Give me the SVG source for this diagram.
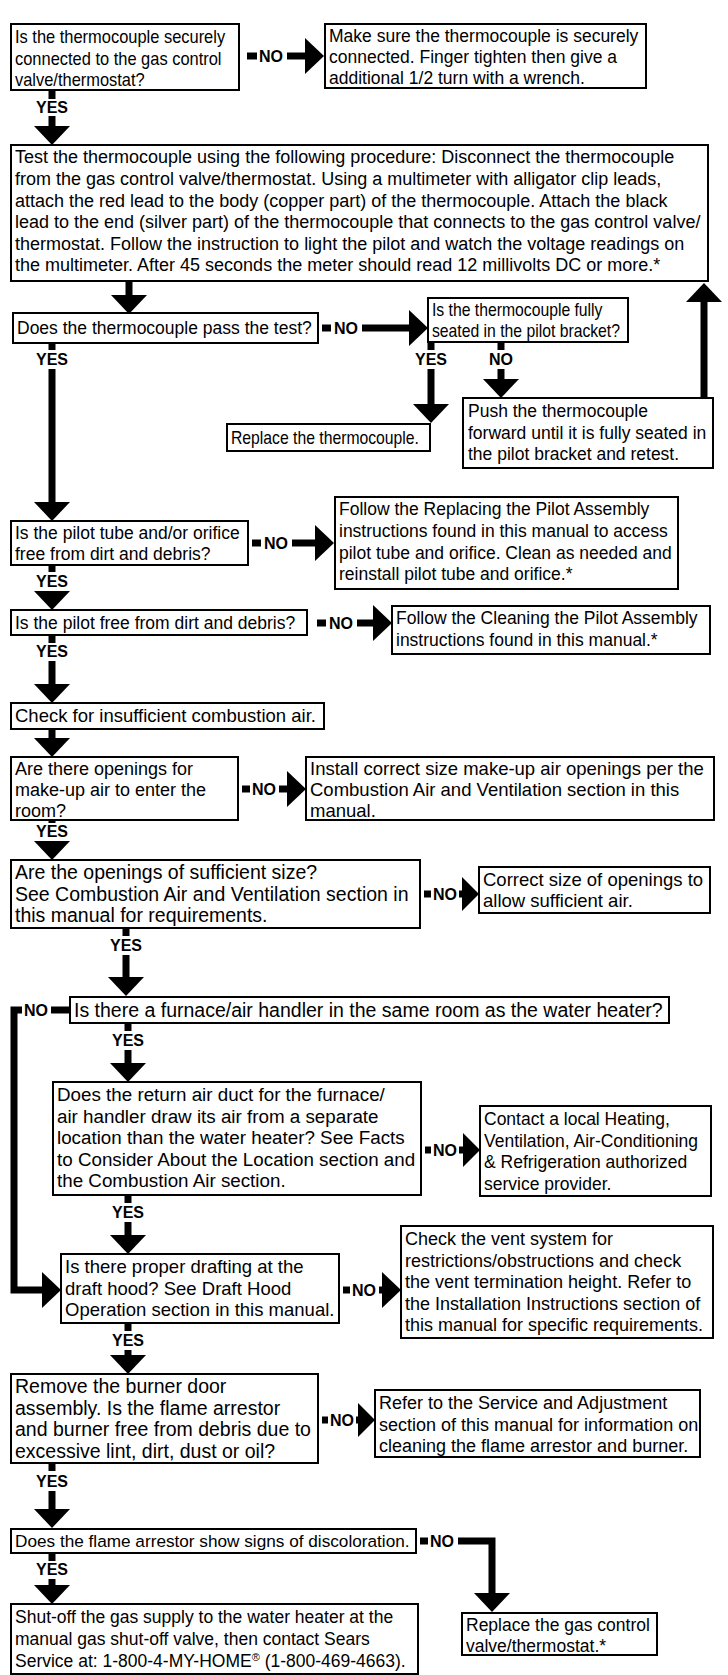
<svg xmlns="http://www.w3.org/2000/svg" xmlns:xlink="http://www.w3.org/1999/xlink" width="728" height="1675" viewBox="0 0 728 1675">
<style>
.box{fill:#fff;stroke:#000;stroke-width:2}
.t{font-family:"Liberation Sans",Arial,sans-serif;font-size:17.5px;fill:#000}
.lb{font-family:"Liberation Sans",Arial,sans-serif;font-size:16px;font-weight:bold;fill:#000}
.m{text-anchor:middle}
.sh{stroke:#000;stroke-width:7;fill:none}
.hd{fill:#000}
</style>
<defs>
<polygon id="ad" class="hd" points="-18,0 18,0 0,19"/>
<polygon id="ar" class="hd" points="0,-18 0,18 19,0"/>
<polygon id="ars" class="hd" points="0,-17 0,17 17,0"/>
<polygon id="au" class="hd" points="-18,0 18,0 0,-19"/>
</defs>
<rect width="728" height="1675" fill="#fff"/>

<g id="connectors">
<!-- A -> B NO -->
<line class="sh" x1="247" y1="56" x2="257" y2="56"/>
<text class="lb" x="259" y="62">NO</text>
<line class="sh" x1="287" y1="56" x2="306" y2="56"/>
<use xlink:href="#ar" x="305" y="56"/>
<!-- A -> C YES -->
<line class="sh" x1="52" y1="90" x2="52" y2="99"/>
<text class="lb m" x="52" y="113">YES</text>
<line class="sh" x1="52" y1="116" x2="52" y2="127"/>
<use xlink:href="#ad" x="52" y="126"/>
<!-- C -> D -->
<line class="sh" x1="129" y1="281" x2="129" y2="296"/>
<use xlink:href="#ad" x="129" y="295"/>
<!-- D -> E NO -->
<line class="sh" x1="322" y1="328" x2="331" y2="328"/>
<text class="lb" x="334" y="334">NO</text>
<line class="sh" x1="362" y1="328" x2="410" y2="328"/>
<use xlink:href="#ar" x="409" y="328"/>
<!-- E -> F YES -->
<line class="sh" x1="431" y1="342" x2="431" y2="350"/>
<text class="lb m" x="431" y="365">YES</text>
<line class="sh" x1="431" y1="369" x2="431" y2="405"/>
<use xlink:href="#ad" x="431" y="404"/>
<!-- E -> G NO -->
<line class="sh" x1="501" y1="342" x2="501" y2="350"/>
<text class="lb m" x="501" y="365">NO</text>
<line class="sh" x1="501" y1="369" x2="501" y2="380"/>
<use xlink:href="#ad" x="501" y="379"/>
<!-- G -> C retest -->
<line class="sh" x1="704" y1="398" x2="704" y2="301"/>
<use xlink:href="#au" x="704" y="302"/>
<!-- D -> H YES -->
<line class="sh" x1="52" y1="343" x2="52" y2="350"/>
<text class="lb m" x="52" y="365">YES</text>
<line class="sh" x1="52" y1="369" x2="52" y2="503"/>
<use xlink:href="#ad" x="52" y="502"/>
<!-- H -> I NO -->
<line class="sh" x1="252" y1="543" x2="261" y2="543"/>
<text class="lb" x="264" y="549">NO</text>
<line class="sh" x1="292" y1="543" x2="316" y2="543"/>
<use xlink:href="#ar" x="315" y="543"/>
<!-- H -> J YES -->
<line class="sh" x1="52" y1="565" x2="52" y2="572"/>
<text class="lb m" x="52" y="587">YES</text>
<use xlink:href="#ad" x="52" y="591"/>
<!-- J -> K NO -->
<line class="sh" x1="317" y1="623" x2="326" y2="623"/>
<text class="lb" x="329" y="629">NO</text>
<line class="sh" x1="357" y1="623" x2="374" y2="623"/>
<use xlink:href="#ar" x="373" y="623"/>
<!-- J -> L YES -->
<line class="sh" x1="52" y1="635" x2="52" y2="643"/>
<text class="lb m" x="52" y="657">YES</text>
<line class="sh" x1="52" y1="661" x2="52" y2="685"/>
<use xlink:href="#ad" x="52" y="684"/>
<!-- L -> M -->
<line class="sh" x1="52" y1="729" x2="52" y2="739"/>
<use xlink:href="#ad" x="52" y="738"/>
<!-- M -> N NO -->
<line class="sh" x1="242" y1="789" x2="250" y2="789"/>
<text class="lb" x="252" y="795">NO</text>
<line class="sh" x1="279" y1="789" x2="288" y2="789"/>
<use xlink:href="#ar" x="287" y="789"/>
<!-- M -> O YES -->
<line class="sh" x1="52" y1="820" x2="52" y2="823"/>
<text class="lb m" x="52" y="837">YES</text>
<use xlink:href="#ad" x="52" y="841"/>
<!-- O -> P NO -->
<line class="sh" x1="424" y1="894" x2="431" y2="894"/>
<text class="lb" x="433" y="900">NO</text>
<line class="sh" x1="459" y1="894" x2="463" y2="894"/>
<use xlink:href="#ars" x="462" y="894"/>
<!-- O -> Q YES -->
<line class="sh" x1="126" y1="928" x2="126" y2="936"/>
<text class="lb m" x="126" y="951">YES</text>
<line class="sh" x1="126" y1="955" x2="126" y2="978"/>
<use xlink:href="#ad" x="126" y="977"/>
<!-- Q -> T NO (left loop) -->
<path class="sh" d="M22,1010 H14 V1290 H44" stroke-linejoin="miter"/>
<text class="lb" x="24" y="1016">NO</text>
<line class="sh" x1="51" y1="1010" x2="70" y2="1010"/>
<use xlink:href="#ar" x="42" y="1290"/>
<!-- Q -> R YES -->
<line class="sh" x1="128" y1="1023" x2="128" y2="1031"/>
<text class="lb m" x="128" y="1046">YES</text>
<line class="sh" x1="128" y1="1050" x2="128" y2="1064"/>
<use xlink:href="#ad" x="128" y="1063"/>
<!-- R -> S NO -->
<line class="sh" x1="425" y1="1150" x2="431" y2="1150"/>
<text class="lb" x="433" y="1156">NO</text>
<line class="sh" x1="459" y1="1150" x2="464" y2="1150"/>
<use xlink:href="#ars" x="463" y="1150"/>
<!-- R -> T YES -->
<line class="sh" x1="128" y1="1195" x2="128" y2="1203"/>
<text class="lb m" x="128" y="1218">YES</text>
<line class="sh" x1="128" y1="1222" x2="128" y2="1236"/>
<use xlink:href="#ad" x="128" y="1235"/>
<!-- T -> U NO -->
<line class="sh" x1="343" y1="1290" x2="350" y2="1290"/>
<text class="lb" x="352" y="1296">NO</text>
<line class="sh" x1="379" y1="1290" x2="383" y2="1290"/>
<use xlink:href="#ar" x="382" y="1290"/>
<!-- T -> V YES -->
<line class="sh" x1="128" y1="1323" x2="128" y2="1331"/>
<text class="lb m" x="128" y="1346">YES</text>
<line class="sh" x1="128" y1="1350" x2="128" y2="1356"/>
<use xlink:href="#ad" x="128" y="1355"/>
<!-- V -> W NO -->
<line class="sh" x1="322" y1="1420" x2="328" y2="1420"/>
<text class="lb" x="330" y="1426">NO</text>
<line class="sh" x1="356" y1="1420" x2="359" y2="1420"/>
<use xlink:href="#ars" x="358" y="1420"/>
<!-- V -> X YES -->
<line class="sh" x1="52" y1="1463" x2="52" y2="1471"/>
<text class="lb m" x="52" y="1487">YES</text>
<line class="sh" x1="52" y1="1491" x2="52" y2="1510"/>
<use xlink:href="#ad" x="52" y="1509"/>
<!-- X -> Y NO -->
<line class="sh" x1="420" y1="1541" x2="428" y2="1541"/>
<text class="lb" x="430" y="1547">NO</text>
<path class="sh" d="M458,1541 H492 V1594" stroke-linejoin="miter"/>
<use xlink:href="#ad" x="492" y="1593"/>
<!-- X -> Z YES -->
<line class="sh" x1="52" y1="1553" x2="52" y2="1561"/>
<text class="lb m" x="52" y="1575">YES</text>
<line class="sh" x1="52" y1="1579" x2="52" y2="1586"/>
<use xlink:href="#ad" x="52" y="1585"/>
</g>

<g id="nA"><rect class="box" x="11" y="24" width="228" height="66"/>
<text class="t" transform="matrix(0.94 0 0 1 0.9 0)"><tspan x="15" y="43">Is the thermocouple securely</tspan><tspan x="15" y="65">connected to the gas control</tspan><tspan x="15" y="86">valve/thermostat?</tspan></text></g>

<g id="nB"><rect class="box" x="325" y="24" width="321" height="64"/>
<text class="t"><tspan x="329" y="42">Make sure the thermocouple is securely</tspan><tspan x="329" y="63">connected. Finger tighten then give a</tspan><tspan x="329" y="84">additional 1/2 turn with a wrench.</tspan></text></g>

<g id="nC"><rect class="box" x="11" y="145" width="697" height="136"/>
<text class="t" style="font-size:18px"><tspan x="15" y="163">Test the thermocouple using the following procedure: Disconnect the thermocouple</tspan><tspan x="15" y="185">from the gas control valve/thermostat. Using a multimeter with alligator clip leads,</tspan><tspan x="15" y="207">attach the red lead to the body (copper part) of the thermocouple. Attach the black</tspan><tspan x="15" y="228">lead to the end (silver part) of the thermocouple that connects to the gas control valve/</tspan><tspan x="15" y="250">thermostat. Follow the instruction to light the pilot and watch the voltage readings on</tspan><tspan x="15" y="271">the multimeter. After 45 seconds the meter should read 12 millivolts DC or more.*</tspan></text></g>

<g id="nD"><rect class="box" x="13" y="313" width="305" height="30"/>
<text class="t" x="17" y="334">Does the thermocouple pass the test?</text></g>

<g id="nE"><rect class="box" x="428" y="298" width="200" height="44"/>
<text class="t" transform="matrix(0.9 0 0 1 43.2 0)"><tspan x="432" y="316">Is the thermocouple fully</tspan><tspan x="432" y="337">seated in the pilot bracket?</tspan></text></g>

<g id="nF"><rect class="box" x="227" y="424" width="203" height="27"/>
<text class="t" transform="matrix(0.9 0 0 1 23.1 0)" x="231" y="444">Replace the thermocouple.</text></g>

<g id="nG"><rect class="box" x="463" y="398" width="250" height="70"/>
<text class="t"><tspan x="468" y="417">Push the thermocouple</tspan><tspan x="468" y="439">forward until it is fully seated in</tspan><tspan x="468" y="460">the pilot bracket and retest.</tspan></text></g>

<g id="nH"><rect class="box" x="11" y="521" width="237" height="44"/>
<text class="t"><tspan x="15" y="539">Is the pilot tube and/or orifice</tspan><tspan x="15" y="560">free from dirt and debris?</tspan></text></g>

<g id="nI"><rect class="box" x="335" y="497" width="343" height="92"/>
<text class="t"><tspan x="339" y="515">Follow the Replacing the Pilot Assembly</tspan><tspan x="339" y="537">instructions found in this manual to access</tspan><tspan x="339" y="559">pilot tube and orifice. Clean as needed and</tspan><tspan x="339" y="580">reinstall pilot tube and orifice.*</tspan></text></g>

<g id="nJ"><rect class="box" x="11" y="610" width="296" height="25"/>
<text class="t" x="15" y="629">Is the pilot free from dirt and debris?</text></g>

<g id="nK"><rect class="box" x="392" y="606" width="318" height="48"/>
<text class="t"><tspan x="396" y="624">Follow the Cleaning the Pilot Assembly</tspan><tspan x="396" y="646">instructions found in this manual.*</tspan></text></g>

<g id="nL"><rect class="box" x="11" y="703" width="313" height="26"/>
<text class="t" style="font-size:18.5px" x="15" y="722">Check for insufficient combustion air.</text></g>

<g id="nM"><rect class="box" x="11" y="757" width="227" height="63"/>
<text class="t" style="font-size:18px"><tspan x="15" y="775">Are there openings for</tspan><tspan x="15" y="796">make-up air to enter the</tspan><tspan x="15" y="817">room?</tspan></text></g>

<g id="nN"><rect class="box" x="306" y="757" width="408" height="63"/>
<text class="t" style="font-size:18.5px"><tspan x="310" y="775">Install correct size make-up air openings per the</tspan><tspan x="310" y="796">Combustion Air and Ventilation section in this</tspan><tspan x="310" y="817">manual.</tspan></text></g>

<g id="nO"><rect class="box" x="11" y="860" width="409" height="68"/>
<text class="t" style="font-size:19.5px"><tspan x="15" y="879">Are the openings of sufficient size?</tspan><tspan x="15" y="901">See Combustion Air and Ventilation section in</tspan><tspan x="15" y="922">this manual for requirements.</tspan></text></g>

<g id="nP"><rect class="box" x="479" y="867" width="231" height="46"/>
<text class="t" style="font-size:18.5px"><tspan x="483" y="886">Correct size of openings to</tspan><tspan x="483" y="907">allow sufficient air.</tspan></text></g>

<g id="nQ"><rect class="box" x="70" y="997" width="599" height="26"/>
<text class="t" style="font-size:19.5px" x="74" y="1017">Is there a furnace/air handler in the same room as the water heater?</text></g>

<g id="nR"><rect class="box" x="53" y="1082" width="368" height="113"/>
<text class="t" style="font-size:18.8px"><tspan x="57" y="1101">Does the return air duct for the furnace/</tspan><tspan x="57" y="1123">air handler draw its air from a separate</tspan><tspan x="57" y="1144">location than the water heater? See Facts</tspan><tspan x="57" y="1166">to Consider About the Location section and</tspan><tspan x="57" y="1187">the Combustion Air section.</tspan></text></g>

<g id="nS"><rect class="box" x="480" y="1106" width="231" height="90"/>
<text class="t"><tspan x="484" y="1125">Contact a local Heating,</tspan><tspan x="484" y="1147">Ventilation, Air-Conditioning</tspan><tspan x="484" y="1168">&amp; Refrigeration authorized</tspan><tspan x="484" y="1190">service provider.</tspan></text></g>

<g id="nT"><rect class="box" x="61" y="1254" width="278" height="69"/>
<text class="t" style="font-size:18.5px"><tspan x="65" y="1273">Is there proper drafting at the</tspan><tspan x="65" y="1295">draft hood? See Draft Hood</tspan><tspan x="65" y="1316">Operation section in this manual.</tspan></text></g>

<g id="nU"><rect class="box" x="401" y="1226" width="312" height="112"/>
<text class="t" style="font-size:18px"><tspan x="405" y="1245">Check the vent system for</tspan><tspan x="405" y="1267">restrictions/obstructions and check</tspan><tspan x="405" y="1288">the vent termination height. Refer to</tspan><tspan x="405" y="1310">the Installation Instructions section of</tspan><tspan x="405" y="1331">this manual for specific requirements.</tspan></text></g>

<g id="nV"><rect class="box" x="11" y="1374" width="307" height="89"/>
<text class="t" style="font-size:19.5px"><tspan x="15" y="1393">Remove the burner door</tspan><tspan x="15" y="1415">assembly. Is the flame arrestor</tspan><tspan x="15" y="1436">and burner free from debris due to</tspan><tspan x="15" y="1458">excessive lint, dirt, dust or oil?</tspan></text></g>

<g id="nW"><rect class="box" x="375" y="1390" width="325" height="67"/>
<text class="t" style="font-size:18px"><tspan x="379" y="1409">Refer to the Service and Adjustment</tspan><tspan x="379" y="1431">section of this manual for information on</tspan><tspan x="379" y="1452">cleaning the flame arrestor and burner.</tspan></text></g>

<g id="nX"><rect class="box" x="11" y="1529" width="405" height="24"/>
<text class="t" style="font-size:17.2px" x="15" y="1547">Does the flame arrestor show signs of discoloration.</text></g>

<g id="nY"><rect class="box" x="462" y="1613" width="195" height="42"/>
<text class="t"><tspan x="466" y="1631">Replace the gas control</tspan><tspan x="466" y="1652">valve/thermostat.*</tspan></text></g>

<g id="nZ"><rect class="box" x="11" y="1604" width="407" height="70"/>
<text class="t"><tspan x="15" y="1623">Shut-off the gas supply to the water heater at the</tspan><tspan x="15" y="1645">manual gas shut-off valve, then contact Sears</tspan><tspan x="15" y="1667">Service at: 1-800-4-MY-HOME<tspan font-size="11" baseline-shift="super">®</tspan> (1-800-469-4663).</tspan></text></g>
</svg>
